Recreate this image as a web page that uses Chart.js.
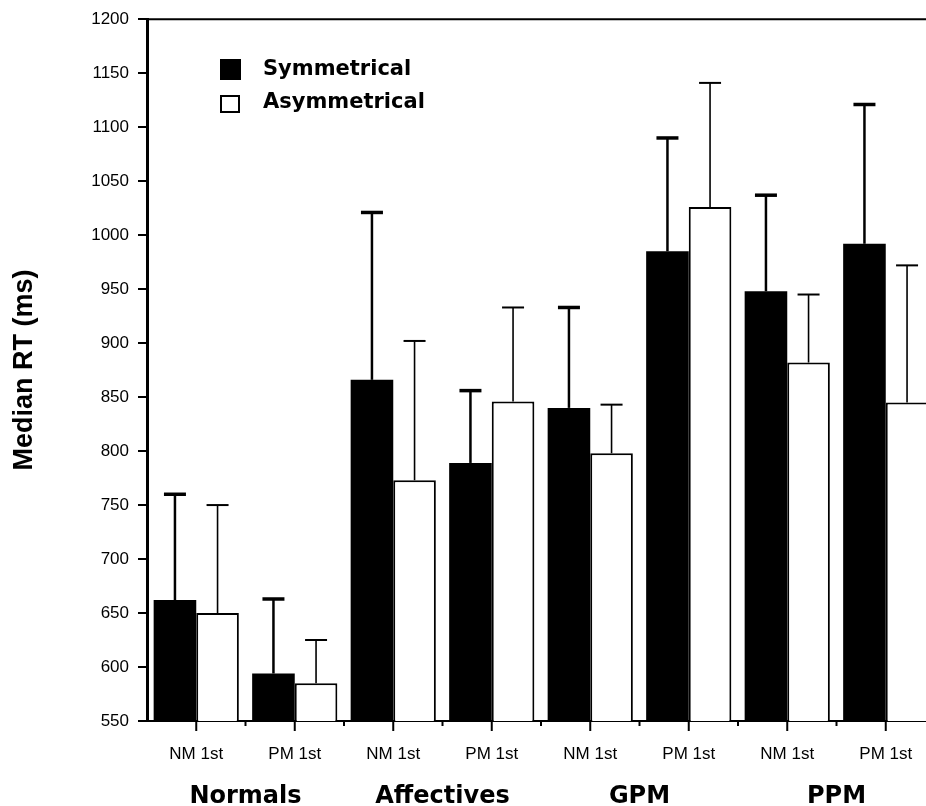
<!DOCTYPE html>
<html>
<head>
<meta charset="utf-8">
<script src="https://cdn.jsdelivr.net/npm/chart.js@4.4.1/dist/chart.umd.min.js"></script>
<style>
  html, body { margin: 0; padding: 0; background: #fff; overflow: hidden; }
  #wrap { width: 936px; height: 806px; }
</style>
</head>
<body>
<div id="wrap"><canvas id="rtChart" width="936" height="806"></canvas></div>
<script>
const conditions = ["NM 1st", "PM 1st", "NM 1st", "PM 1st", "NM 1st", "PM 1st", "NM 1st", "PM 1st"];
const groups = ["Normals", "Affectives", "GPM", "PPM"];

// median RT (ms) and top of the error bar
const symmetrical      = [662, 594, 866, 789, 840, 985, 948, 992];
const symmetricalUpper = [760, 663, 1021, 856, 933, 1090, 1037, 1121];
const asymmetrical      = [650, 585, 773, 846, 798, 1026, 882, 845];
const asymmetricalUpper = [750, 625, 902, 933, 843, 1141, 945, 972];

const yMin = 550, yMax = 1200, yStep = 50;

const uppers = [symmetricalUpper, asymmetricalUpper];

const errorBars = {
  id: "errorBars",
  afterDatasetsDraw(chart) {
    const ctx = chart.ctx;
    const y = chart.scales.y;
    chart.data.datasets.forEach((ds, d) => {
      const meta = chart.getDatasetMeta(d);
      ctx.save();
      ctx.strokeStyle = "#000";
      meta.data.forEach((bar, i) => {
        const top = y.getPixelForValue(uppers[d][i]);
        ctx.lineWidth = d === 0 ? 2.5 : 1.6;
        ctx.beginPath();
        ctx.moveTo(bar.x, bar.y);
        ctx.lineTo(bar.x, top);
        ctx.stroke();
        ctx.lineWidth = d === 0 ? 3.5 : 2;
        ctx.beginPath();
        ctx.moveTo(bar.x - 11, top);
        ctx.lineTo(bar.x + 11, top);
        ctx.stroke();
      });
      ctx.restore();
    });
  }
};

const frame = {
  id: "frame",
  afterDraw(chart) {
    const ctx = chart.ctx;
    const a = chart.chartArea;
    const x = chart.scales.x;
    ctx.save();
    ctx.strokeStyle = "#000";
    // top line
    ctx.lineWidth = 2;
    ctx.beginPath();
    ctx.moveTo(a.left, a.top);
    ctx.lineTo(a.right, a.top);
    ctx.stroke();
    // x tick marks: long at categories, short between
    conditions.forEach((c, i) => {
      const px = x.getPixelForValue(i);
      ctx.beginPath();
      ctx.moveTo(px, a.bottom);
      ctx.lineTo(px, a.bottom + 10);
      ctx.stroke();
      if (i > 0) {
        const mid = (px + x.getPixelForValue(i - 1)) / 2;
        ctx.beginPath();
        ctx.moveTo(mid, a.bottom);
        ctx.lineTo(mid, a.bottom + 5);
        ctx.stroke();
      }
    });
    ctx.restore();
  }
};

const boxLegend = {
  id: "boxLegend",
  afterDraw(chart) {
    const ctx = chart.ctx;
    ctx.save();
    ctx.fillStyle = "#000";
    ctx.fillRect(220, 59, 21, 21);
    ctx.strokeStyle = "#000";
    ctx.lineWidth = 2;
    ctx.strokeRect(221, 96, 18, 16);
    ctx.font = "bold 21px 'DejaVu Sans'";
    ctx.textBaseline = "middle";
    ctx.textAlign = "left";
    ctx.fillText(chart.data.datasets[0].label, 263, 70);
    ctx.fillText(chart.data.datasets[1].label, 263, 103);
    ctx.restore();
  }
};

new Chart(document.getElementById("rtChart"), {
  type: "bar",
  data: {
    labels: conditions,
    datasets: [
      {
        label: "Symmetrical",
        data: symmetrical,
        backgroundColor: "#000",
        borderColor: "#000",
        borderWidth: 0,
        categoryPercentage: 0.865,
        barPercentage: 1.0
      },
      {
        label: "Asymmetrical",
        data: asymmetrical,
        backgroundColor: "#fff",
        borderColor: "#000",
        borderWidth: 2,
        categoryPercentage: 0.865,
        barPercentage: 1.0
      }
    ]
  },
  options: {
    responsive: false,
    devicePixelRatio: 1,
    animation: false,
    layout: { padding: { top: 15, right: 1, left: 0, bottom: 0 } },
    plugins: {
      legend: { display: false },
      tooltip: { enabled: false }
    },
    scales: {
      y: {
        min: yMin,
        max: yMax,
        ticks: {
          stepSize: yStep,
          color: "#000",
          font: { family: "'Liberation Sans', Arial", size: 17 },
          padding: 9,
          callback: v => String(v)
        },
        grid: { drawOnChartArea: false, tickLength: 9, color: "#000", lineWidth: 2 },
        border: { color: "#000", width: 3 },
        title: {
          display: true,
          text: "Median RT (ms)",
          color: "#000",
          font: { family: "'Liberation Sans', Arial", size: 27, weight: "bold" },
          padding: { top: 8, bottom: 0 }
        },
        afterFit(s) { s.width = 147; }
      },
      x: {
        ticks: {
          color: "#000",
          autoSkip: false,
          maxRotation: 0,
          font: { family: "'Liberation Sans', Arial", size: 17 },
          padding: 15
        },
        grid: { display: false },
        border: { color: "#000", width: 2 },
        afterFit(s) { s.height = 50; }
      },
      x2: {
        type: "category",
        labels: groups,
        position: "bottom",
        offset: true,
        weight: 1,
        ticks: {
          color: "#000",
          autoSkip: false,
          maxRotation: 0,
          font: { family: "'DejaVu Sans'", size: 24, weight: "bold" },
          padding: 3
        },
        grid: { display: false },
        border: { display: false },
        afterFit(s) { s.height = 35; }
      }
    }
  },
  plugins: [errorBars, frame, boxLegend]
});
</script>
</body>
</html>
